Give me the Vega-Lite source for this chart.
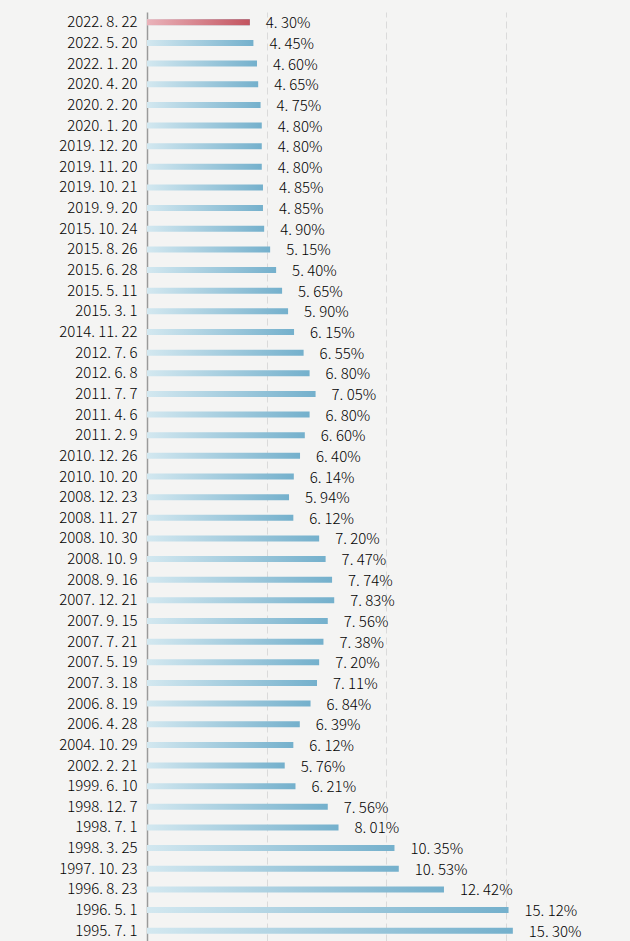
{
  "$schema": "https://vega.github.io/schema/vega-lite/v6.json",
  "width": 483,
  "height": 929,
  "autosize": "none",
  "padding": {"left": 147, "top": 12, "right": 0, "bottom": 0},
  "background": "#f4f4f3",
  "config": {"view": {"stroke": null}, "font": "Noto Sans CJK SC"},
  "data": {"values": [
    {"date": "2022. 8. 22", "rate": 4.30, "label": "4. 30%", "latest": true},
    {"date": "2022. 5. 20", "rate": 4.45, "label": "4. 45%", "latest": false},
    {"date": "2022. 1. 20", "rate": 4.60, "label": "4. 60%", "latest": false},
    {"date": "2020. 4. 20", "rate": 4.65, "label": "4. 65%", "latest": false},
    {"date": "2020. 2. 20", "rate": 4.75, "label": "4. 75%", "latest": false},
    {"date": "2020. 1. 20", "rate": 4.80, "label": "4. 80%", "latest": false},
    {"date": "2019. 12. 20", "rate": 4.80, "label": "4. 80%", "latest": false},
    {"date": "2019. 11. 20", "rate": 4.80, "label": "4. 80%", "latest": false},
    {"date": "2019. 10. 21", "rate": 4.85, "label": "4. 85%", "latest": false},
    {"date": "2019. 9. 20", "rate": 4.85, "label": "4. 85%", "latest": false},
    {"date": "2015. 10. 24", "rate": 4.90, "label": "4. 90%", "latest": false},
    {"date": "2015. 8. 26", "rate": 5.15, "label": "5. 15%", "latest": false},
    {"date": "2015. 6. 28", "rate": 5.40, "label": "5. 40%", "latest": false},
    {"date": "2015. 5. 11", "rate": 5.65, "label": "5. 65%", "latest": false},
    {"date": "2015. 3. 1", "rate": 5.90, "label": "5. 90%", "latest": false},
    {"date": "2014. 11. 22", "rate": 6.15, "label": "6. 15%", "latest": false},
    {"date": "2012. 7. 6", "rate": 6.55, "label": "6. 55%", "latest": false},
    {"date": "2012. 6. 8", "rate": 6.80, "label": "6. 80%", "latest": false},
    {"date": "2011. 7. 7", "rate": 7.05, "label": "7. 05%", "latest": false},
    {"date": "2011. 4. 6", "rate": 6.80, "label": "6. 80%", "latest": false},
    {"date": "2011. 2. 9", "rate": 6.60, "label": "6. 60%", "latest": false},
    {"date": "2010. 12. 26", "rate": 6.40, "label": "6. 40%", "latest": false},
    {"date": "2010. 10. 20", "rate": 6.14, "label": "6. 14%", "latest": false},
    {"date": "2008. 12. 23", "rate": 5.94, "label": "5. 94%", "latest": false},
    {"date": "2008. 11. 27", "rate": 6.12, "label": "6. 12%", "latest": false},
    {"date": "2008. 10. 30", "rate": 7.20, "label": "7. 20%", "latest": false},
    {"date": "2008. 10. 9", "rate": 7.47, "label": "7. 47%", "latest": false},
    {"date": "2008. 9. 16", "rate": 7.74, "label": "7. 74%", "latest": false},
    {"date": "2007. 12. 21", "rate": 7.83, "label": "7. 83%", "latest": false},
    {"date": "2007. 9. 15", "rate": 7.56, "label": "7. 56%", "latest": false},
    {"date": "2007. 7. 21", "rate": 7.38, "label": "7. 38%", "latest": false},
    {"date": "2007. 5. 19", "rate": 7.20, "label": "7. 20%", "latest": false},
    {"date": "2007. 3. 18", "rate": 7.11, "label": "7. 11%", "latest": false},
    {"date": "2006. 8. 19", "rate": 6.84, "label": "6. 84%", "latest": false},
    {"date": "2006. 4. 28", "rate": 6.39, "label": "6. 39%", "latest": false},
    {"date": "2004. 10. 29", "rate": 6.12, "label": "6. 12%", "latest": false},
    {"date": "2002. 2. 21", "rate": 5.76, "label": "5. 76%", "latest": false},
    {"date": "1999. 6. 10", "rate": 6.21, "label": "6. 21%", "latest": false},
    {"date": "1998. 12. 7", "rate": 7.56, "label": "7. 56%", "latest": false},
    {"date": "1998. 7. 1", "rate": 8.01, "label": "8. 01%", "latest": false},
    {"date": "1998. 3. 25", "rate": 10.35, "label": "10. 35%", "latest": false},
    {"date": "1997. 10. 23", "rate": 10.53, "label": "10. 53%", "latest": false},
    {"date": "1996. 8. 23", "rate": 12.42, "label": "12. 42%", "latest": false},
    {"date": "1996. 5. 1", "rate": 15.12, "label": "15. 12%", "latest": false},
    {"date": "1995. 7. 1", "rate": 15.30, "label": "15. 30%", "latest": false}
  ]},
  "encoding": {
    "y": {
      "field": "date", "type": "nominal", "sort": null, "title": null,
      "scale": {"paddingInner": 0, "paddingOuter": 0},
      "axis": {
        "domain": true, "domainColor": "#9a9a9a", "domainWidth": 1.5,
        "ticks": false, "labelPadding": 10, "labelFontSize": 15, "labelFontWeight": 300,
        "labelColor": "#000000", "labelFont": "Noto Sans CJK SC", "grid": false
      }
    },
    "x": {
      "field": "rate", "type": "quantitative", "title": null,
      "scale": {"domain": [0, 20.2], "nice": false, "zero": true},
      "axis": {
        "values": [5, 10, 15], "labels": false, "ticks": false, "domain": false,
        "grid": true, "gridColor": "#dadada", "gridDash": [7, 4], "gridWidth": 1
      }
    }
  },
  "layer": [
    {
      "mark": {
        "type": "bar", "size": 6,
        "color": {"gradient": "linear", "x1": 0, "y1": 0, "x2": 1, "y2": 0,
          "stops": [{"offset": 0, "color": "#d3e8f0"}, {"offset": 1, "color": "#74b0cc"}]}
      }
    },
    {
      "transform": [{"filter": "datum.latest"}],
      "mark": {
        "type": "bar", "size": 6,
        "color": {"gradient": "linear", "x1": 0, "y1": 0, "x2": 1, "y2": 0,
          "stops": [{"offset": 0, "color": "#eab3ba"}, {"offset": 1, "color": "#c3545f"}]}
      }
    },
    {
      "mark": {"type": "text", "align": "left", "baseline": "middle", "dx": 16, "dy": 1,
        "fontSize": 15, "fontWeight": 300, "color": "#000000", "font": "Noto Sans CJK SC"},
      "encoding": {"text": {"field": "label"}}
    }
  ]
}
